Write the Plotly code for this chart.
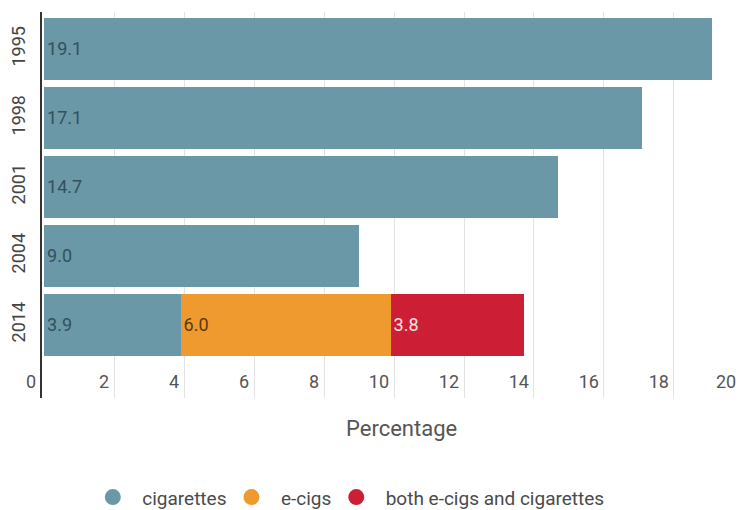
import plotly.graph_objects as go

years = ["1995", "1998", "2001", "2004", "2014"]
cigarettes = [19.1, 17.1, 14.7, 9.0, 3.9]
ecigs = [None, None, None, None, 6.0]
both = [None, None, None, None, 3.8]
x_ticks = [2, 4, 6, 8, 10, 12, 14, 16, 18]
series_names = ["cigarettes", "e-cigs", "both e-cigs and cigarettes"]
colors = ["#6a98a6", "#ee9a2e", "#cc1f35"]
text_colors = ["#33505c", "#5a3a10", "#fbe3e3"]

FONT = "Roboto"
NB = "\u00a0"

fig = go.Figure()
for vals, name, col, tcol in zip([cigarettes, ecigs, both], series_names, colors, text_colors):
    fig.add_trace(go.Bar(
        y=years, x=vals, orientation="h", name=name,
        marker=dict(color=col, line=dict(width=0)),
        texttemplate="%{x:.1f}", textposition="inside", insidetextanchor="start",
        textfont=dict(family=FONT, size=18, color=tcol),
        showlegend=False, hoverinfo="x+name",
    ))
    fig.add_trace(go.Scatter(
        x=[None], y=[None], mode="markers", name=NB * 2 + name,
        marker=dict(color=col, size=20, symbol="circle"),
        showlegend=True,
    ))

fig.update_layout(
    width=738, height=510,
    margin=dict(l=42, r=0, t=12, b=112),
    barmode="stack", bargap=0.1,
    plot_bgcolor="white", paper_bgcolor="white",
    font=dict(family=FONT, size=14, color="#555555"),
    xaxis=dict(
        range=[-0.06, 19.83], tickvals=x_ticks, showgrid=True, gridcolor="#e3e3e3", gridwidth=1,
        zeroline=False, showline=False, ticks="",
        ticklabelposition="inside left", ticklabelshift=-5,
        tickfont=dict(family=FONT, size=18, color="#555555"),
    ),
    yaxis=dict(
        type="category", categoryorder="array", categoryarray=years,
        range=[5.06, -0.536], showgrid=False, zeroline=False,
        showline=True, linecolor="#333333", linewidth=2, ticks="",
        ticklabelstandoff=8,
        tickangle=-90, tickfont=dict(family=FONT, size=18, color="#444444"),
    ),
    legend=dict(
        orientation="h", x=0.073, xanchor="left", yref="container", y=0.025, yanchor="middle",
        font=dict(family=FONT, size=19, color="#4a4a4a"), itemsizing="trace",
        traceorder="normal",
    ),
    annotations=[
        dict(text="0", xref="paper", yref="paper", x=0.0, y=0.0, xanchor="right", yanchor="bottom",
             showarrow=False, font=dict(family=FONT, size=18, color="#555555"), xshift=-4, yshift=4),
        dict(text="20", xref="paper", yref="paper", x=1.0, y=0.0, xanchor="right", yanchor="bottom",
             showarrow=False, font=dict(family=FONT, size=18, color="#555555"), yshift=4),
        dict(text="Percentage", xref="paper", yref="paper", x=0.517, y=-0.078, xanchor="center",
             yanchor="middle", showarrow=False, font=dict(family=FONT, size=22, color="#555555")),
    ],
)

fig.write_html("out.html")
